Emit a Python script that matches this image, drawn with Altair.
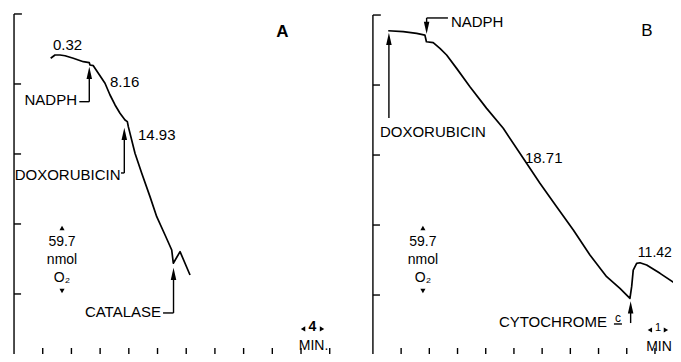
import altair as alt
import pandas as pd

# ---------------- data: panel A (x: minutes, y: nmol O2) ----------------
A_T = [5.11, 5.71, 6.41, 7.11, 8.26, 9.66, 10.49, 10.59, 11.05, 11.75, 12.68, 13.38, 14.08,
       14.77, 15.47, 15.79, 15.93, 16.86, 17.80, 18.95, 19.89, 21.05, 21.98, 22.20, 23.14, 24.53]
A_O2 = [260.7, 263.5, 263.5, 262.9, 260.7, 257.8, 257.0, 255.0, 254.4, 247.9, 239.4, 229.4, 220.9,
        213.8, 208.1, 206.7, 202.4, 179.7, 162.6, 142.7, 125.6, 110.0, 97.2, 85.9, 95.8, 75.9]
A_XTICKS = [4, 8, 12, 16, 20, 24, 28, 32, 36, 40, 44]

# ---------------- data: panel B ----------------
B_T = [0.543, 1.074, 1.550, 1.844, 1.897, 2.138, 2.376, 2.613, 2.968, 3.440, 4.032, 4.621, 5.330,
       5.922, 6.514, 7.106, 7.695, 8.287, 8.759, 9.113, 9.174, 9.230, 9.351, 9.468, 9.706, 10.18,
       10.71, 10.92]
B_O2 = [285.1, 284.3, 282.9, 281.4, 275.7, 274.9, 270.1, 264.4, 253.0, 237.4, 218.9, 201.9, 176.3,
        155.0, 135.0, 115.1, 93.8, 75.3, 65.4, 56.9, 66.8, 81.0, 86.7, 87.2, 85.3, 78.2, 69.7, 66.5]
B_XTICKS = [1, 2, 3, 4, 5, 6, 7, 8, 9, 10]

Y_TICKS = [59.7, 119.4, 179.1, 238.8, 298.5]

FONT = "Liberation Sans"
ARROW = "M0,-1L0.45,1L-0.45,1Z"
ARROW_DN = "M0,1L0.45,-1L-0.45,-1Z"


def panel(t, o2, xticks, xdom, ydom, width, height, tick_len, top_len, xtick_top,
          segs, heads, texts, small_tris):
    xs = alt.Scale(domain=xdom, nice=False, zero=False)
    ys = alt.Scale(domain=ydom, nice=False, zero=False)
    X = lambda f: alt.X(f, type="quantitative", scale=xs, axis=None)
    Y = lambda f: alt.Y(f, type="quantitative", scale=ys, axis=None)

    trace = alt.Chart(pd.DataFrame({"t": t, "o2": o2, "i": range(len(t))})).mark_line(
        color="black", strokeWidth=1.7, strokeJoin="round", clip=True).encode(
        x=X("t"), y=Y("o2"), order="i:Q")

    rows = [dict(x=0, y=ydom[0], x2=0, y2=Y_TICKS[-1])]
    for v in Y_TICKS:
        rows.append(dict(x=0, y=v, x2=(top_len if v == Y_TICKS[-1] else tick_len), y2=v))
    for v in xticks:
        rows.append(dict(x=v, y=ydom[0], x2=v, y2=xtick_top))
    rows += segs
    rules = alt.Chart(pd.DataFrame(rows)).mark_rule(
        color="black", strokeWidth=1.4, clip=True).encode(
        x=X("x"), y=Y("y"), x2="x2:Q", y2="y2:Q")

    layers = [rules, trace]

    hd = pd.DataFrame(heads)
    for shape in hd["shape"].unique():
        sub = hd[hd["shape"] == shape]
        layers.append(alt.Chart(sub).mark_point(
            shape=shape, filled=True, color="black", opacity=1,
            size=float(sub["size"].iloc[0]), clip=True).encode(x=X("x"), y=Y("y")))

    st = pd.DataFrame(small_tris)
    for shape in st["shape"].unique():
        sub = st[st["shape"] == shape]
        layers.append(alt.Chart(sub).mark_point(
            shape=shape, filled=True, color="black", opacity=1, size=26, clip=True).encode(
            x=X("x"), y=Y("y")))

    tx = pd.DataFrame(texts)
    for (align, size, weight), sub in tx.groupby(["align", "size", "weight"]):
        layers.append(alt.Chart(sub).mark_text(
            align=align, baseline="middle", fontSize=float(size), fontWeight=weight,
            font=FONT, color="black", clip=True).encode(x=X("x"), y=Y("y"), text="label:N"))

    return alt.layer(*layers).properties(
        width=width, height=height,
        view=alt.ViewBackground(strokeWidth=0, stroke="transparent", fill="white"))


# ---------------- panel A annotations ----------------
A_SEGS = [
    dict(x=10.49, y=246.0, x2=10.49, y2=223.7), dict(x=10.49, y=223.7, x2=9.10, y2=223.7),   # NADPH
    dict(x=15.37, y=194.0, x2=15.37, y2=162.9), dict(x=15.37, y=162.9, x2=14.91, y2=162.9),  # DOXORUBICIN
    dict(x=22.23, y=75.0, x2=22.23, y2=43.5), dict(x=22.23, y=43.5, x2=20.77, y2=43.5),      # CATALASE
]
A_HEADS = [
    dict(x=10.49, y=248.2, shape=ARROW, size=150),
    dict(x=15.37, y=196.2, shape=ARROW, size=150),
    dict(x=22.23, y=76.8, shape=ARROW, size=150),
]
A_SMALL = [
    dict(x=6.69, y=116.0, shape="triangle-up"),
    dict(x=6.69, y=62.3, shape="triangle-down"),
    dict(x=40.28, y=29.9, shape="triangle-left"),
    dict(x=42.93, y=29.9, shape="triangle-right"),
]
A_TEXTS = [
    dict(x=8.78, y=225.2, label="NADPH", align="right", size=15, weight="normal"),
    dict(x=14.84, y=161.2, label="DOXORUBICIN", align="right", size=15, weight="normal"),
    dict(x=20.49, y=44.3, label="CATALASE", align="right", size=15, weight="normal"),
    dict(x=7.46, y=272.1, label="0.32", align="center", size=15, weight="normal"),
    dict(x=13.38, y=240.5, label="8.16", align="left", size=15, weight="normal"),
    dict(x=17.28, y=195.3, label="14.93", align="left", size=15, weight="normal"),
    dict(x=37.42, y=283.2, label="A", align="center", size=17, weight="bold"),
    dict(x=6.69, y=104.1, label="59.7", align="center", size=14, weight="normal"),
    dict(x=6.69, y=88.7, label="nmol", align="center", size=14, weight="normal"),
    dict(x=6.69, y=73.3, label="O₂", align="center", size=14, weight="normal"),
    dict(x=41.6, y=31.6, label="4", align="center", size=14, weight="bold"),
    dict(x=41.74, y=15.4, label="MIN.", align="center", size=14, weight="normal"),
]

# ---------------- panel B annotations ----------------
B_SEGS = [
    dict(x=0.567, y=276.0, x2=0.567, y2=210.7),                                            # DOXORUBICIN
    dict(x=1.904, y=296.0, x2=1.904, y2=290.0), dict(x=1.904, y=296.0, x2=2.66, y2=296.0),   # NADPH
    dict(x=9.138, y=47.0, x2=9.138, y2=35.8),                                              # CYTOCHROME c
    dict(x=8.546, y=35.0, x2=8.83, y2=35.0),                                               # underline of c
]
B_HEADS = [
    dict(x=0.567, y=278.2, shape=ARROW, size=150),
    dict(x=1.904, y=287.6, shape=ARROW_DN, size=150),
    dict(x=9.138, y=49.2, shape=ARROW, size=150),
]
B_SMALL = [
    dict(x=1.773, y=116.8, shape="triangle-up"),
    dict(x=1.773, y=63.1, shape="triangle-down"),
    dict(x=9.82, y=29.9, shape="triangle-left"),
    dict(x=10.39, y=29.9, shape="triangle-right"),
]
B_TEXTS = [
    dict(x=0.248, y=198.7, label="DOXORUBICIN", align="left", size=15, weight="normal"),
    dict(x=2.766, y=292.5, label="NADPH", align="left", size=15, weight="normal"),
    dict(x=8.298, y=36.7, label="CYTOCHROME", align="right", size=15, weight="normal"),
    dict(x=8.688, y=40.1, label="c", align="center", size=12, weight="normal"),
    dict(x=5.39, y=176.5, label="18.71", align="left", size=15, weight="normal"),
    dict(x=10.60, y=95.5, label="11.42", align="right", size=14, weight="normal"),
    dict(x=9.716, y=284.9, label="B", align="center", size=17, weight="normal"),
    dict(x=1.773, y=104.9, label="59.7", align="center", size=14, weight="normal"),
    dict(x=1.773, y=89.6, label="nmol", align="center", size=14, weight="normal"),
    dict(x=1.773, y=74.2, label="O₂", align="center", size=14, weight="normal"),
    dict(x=10.11, y=31.6, label="1", align="center", size=11, weight="normal"),
    dict(x=10.60, y=15.4, label="MIN", align="right", size=14, weight="normal"),
]

panel_a = panel(A_T, A_O2, A_XTICKS, [-0.84, 46.13], [8.5, 303.6], 337, 346,
                0.98, 1.1, 13.6, A_SEGS, A_HEADS, A_TEXTS, A_SMALL)
panel_b = panel(B_T, B_O2, B_XTICKS, [-0.99, 10.64], [9.4, 304.5], 328, 346,
                0.25, 0.28, 14.5, B_SEGS, B_HEADS, B_TEXTS, B_SMALL)

chart = alt.hconcat(panel_a, panel_b, spacing=0, bounds="flush").properties(
    padding=0
).configure_view(strokeWidth=0, stroke="transparent").configure(background="white")

chart.save("out.html", embed_options={"renderer": "svg", "actions": False})
